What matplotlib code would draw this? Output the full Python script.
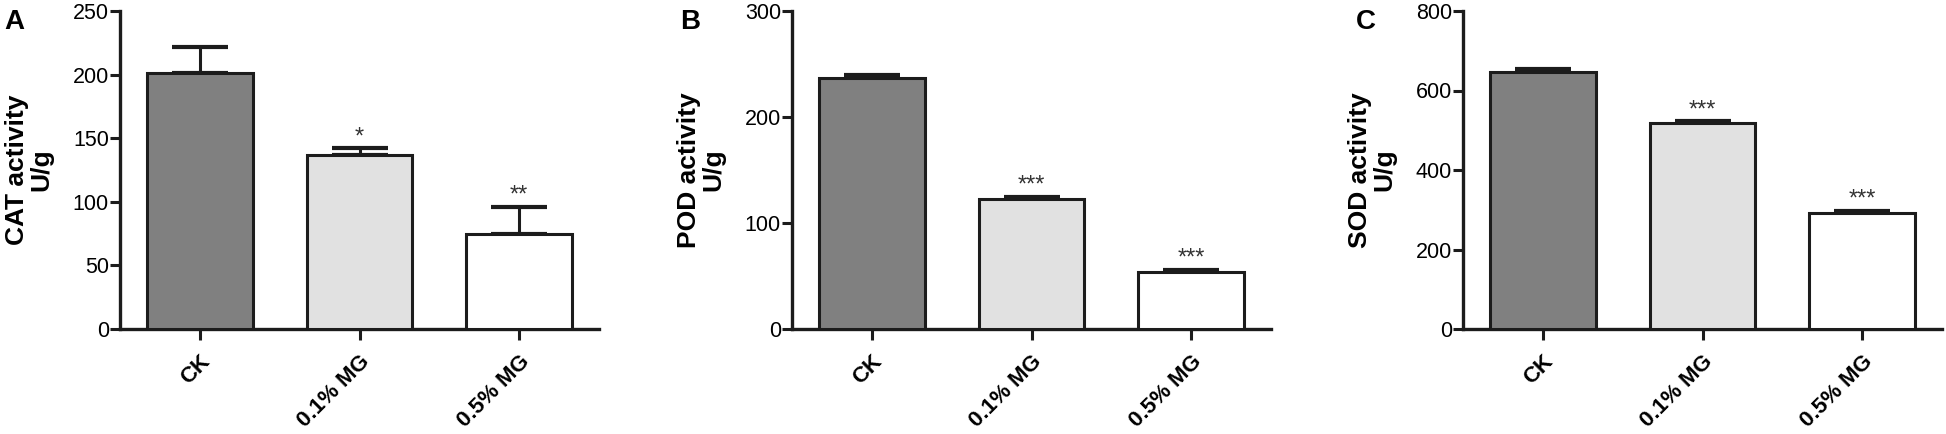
import matplotlib
matplotlib.use("Agg")
import matplotlib.pyplot as plt
import matplotlib.transforms as mtransforms

plt.rcParams['font.family'] = ['Liberation Sans', 'DejaVu Sans']

# --- data ---
groups = ["CK", "0.1% MG", "0.5% MG"]

cat_mean = [201, 137, 75]
cat_err = [21, 5, 21]
cat_stars = ["", "*", "**"]

pod_mean = [237, 123, 54]
pod_err = [3, 2, 2]
pod_stars = ["", "***", "***"]

sod_mean = [647, 517, 292]
sod_err = [7, 6, 5]
sod_stars = ["", "***", "***"]

bar_colors = ["#808080", "#e1e1e1", "#ffffff"]
edge = "#1c1c1c"

panels = [
    ("A", "CAT activity\nU/g", cat_mean, cat_err, cat_stars, 250, [0, 50, 100, 150, 200, 250]),
    ("B", "POD activity\nU/g", pod_mean, pod_err, pod_stars, 300, [0, 100, 200, 300]),
    ("C", "SOD activity\nU/g", sod_mean, sod_err, sod_stars, 800, [0, 200, 400, 600, 800]),
]

W, H = 1946, 434
fig = plt.figure(figsize=(W / 100, H / 100), dpi=100)

ax_left_px = [120, 792, 1463]
letter_px = [4, 680, 1356]
ax_w = 479 / W
ax_b = (H - 329) / H
ax_h = 318 / H

for i, (letter, ylab, mean, err, stars, ymax, yticks) in enumerate(panels):
    ax = fig.add_axes([ax_left_px[i] / W, ax_b, ax_w, ax_h])
    x = list(range(len(groups)))
    ax.bar(x, mean, width=0.66, color=bar_colors, edgecolor=edge, linewidth=2.2, zorder=3)
    ax.errorbar(x, mean, yerr=[[0] * 3, err], fmt="none", ecolor=edge,
                elinewidth=2.2, capsize=20, capthick=3, zorder=2)
    for xi, m, e, s in zip(x, mean, err, stars):
        if s:
            ax.text(xi, m + e, s, ha="center", va="bottom", fontsize=17, color="#333333")

    ax.set_xlim(-0.5, 2.5)
    ax.set_ylim(0, ymax)
    ax.set_yticks(yticks)
    ax.set_xticks(x)
    ax.set_xticklabels(groups, rotation=45, ha="right", rotation_mode="anchor",
                       fontsize=16, fontweight="bold")
    shift = mtransforms.ScaledTranslation(-4 / 100, 0, fig.dpi_scale_trans)
    for lab in ax.get_xticklabels():
        lab.set_transform(lab.get_transform() + shift)
    ax.tick_params(axis="y", labelsize=15.5, width=2.2, length=7, color=edge, pad=1)
    ax.tick_params(axis="x", width=2.2, length=8, color=edge, pad=8)

    for sp in ["top", "right"]:
        ax.spines[sp].set_visible(False)
    for sp in ["left", "bottom"]:
        ax.spines[sp].set_linewidth(2.4)
        ax.spines[sp].set_color(edge)

    ax.set_ylabel(ylab, fontsize=19, fontweight="bold", linespacing=1.0)
    ax.yaxis.set_label_coords(-0.14, 0.5)

    fig.text(letter_px[i] / W, 1 - 9 / H, letter, fontsize=20, fontweight="bold",
             ha="left", va="top")

fig.savefig("out.png", dpi=100)
